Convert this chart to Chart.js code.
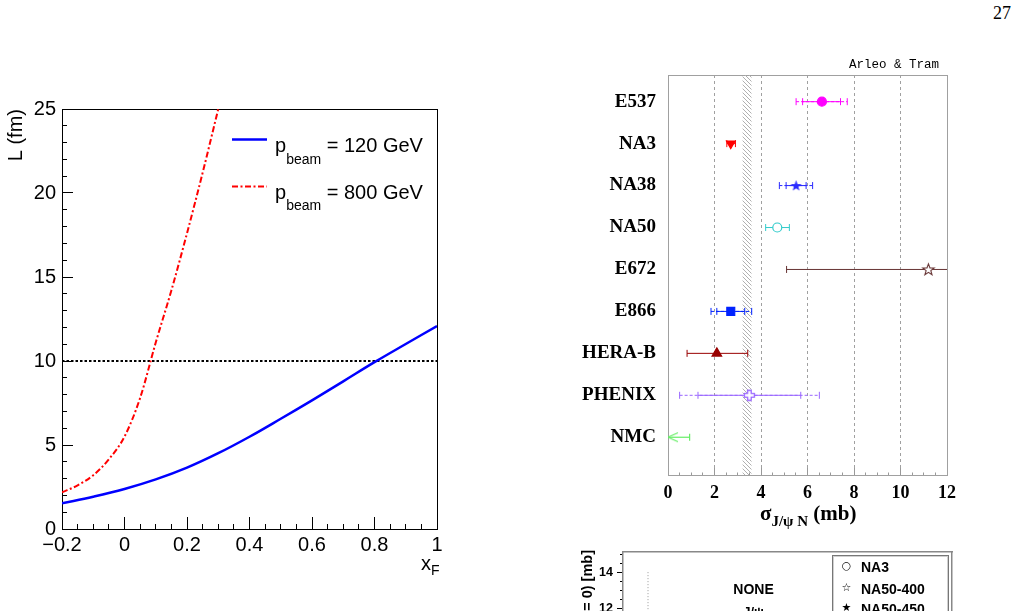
<!DOCTYPE html>
<html><head><meta charset="utf-8">
<script src="https://cdn.jsdelivr.net/npm/chart.js@4.4.0/dist/chart.umd.min.js"></script>
<style>
html,body{margin:0;padding:0;background:#fff;width:1019px;height:611px;overflow:hidden;position:relative;}
canvas{position:absolute;}
.t{position:absolute;white-space:nowrap;color:#000;}
.sans{font-family:'Liberation Sans',Arial,Helvetica,sans-serif;}
.serif{font-family:'Liberation Serif','Times New Roman',serif;}
</style></head><body>
<canvas id="c1" width="470" height="500" style="left:0;top:80px"></canvas>
<canvas id="c2" width="459" height="480" style="left:560px;top:50px"></canvas>
<canvas id="c3" width="459" height="130" style="left:560px;top:540px"></canvas>

<div class="t serif" style="left:993px;top:4px;font-size:18px;line-height:18px;">27</div>

<svg style="position:absolute;left:0;top:0;pointer-events:none" width="1019" height="611">
  <line x1="232" y1="139.5" x2="267" y2="139.5" stroke="#0000ff" stroke-width="2.5"/>
  <line x1="232" y1="186.5" x2="267" y2="186.5" stroke="#ff0000" stroke-width="2" stroke-dasharray="6 2.5 2 2.5"/>
</svg>
<div class="t sans" style="left:275px;top:135px;font-size:20px;line-height:20px;">p<span style="font-size:14px;position:relative;top:11.5px;">beam</span> = 120 GeV</div>
<div class="t sans" style="left:275px;top:181.5px;font-size:20px;line-height:20px;">p<span style="font-size:14px;position:relative;top:11.5px;">beam</span> = 800 GeV</div>
<div class="t sans" style="left:421px;top:553px;font-size:20px;line-height:20px;">x<span style="font-size:14px;position:relative;top:5px;">F</span></div>

<div class="t" style="left:849px;top:58.5px;font-family:'Liberation Mono','Courier New',monospace;font-size:12.5px;line-height:12.5px;">Arleo &amp; Tram</div>
<div class="t serif" style="left:760px;top:503px;font-size:21px;line-height:21px;font-weight:bold;">σ<span style="font-size:15px;position:relative;top:6px;">J/ψ N</span> (mb)</div>

<div class="t sans" style="left:588px;top:550px;font-size:14.5px;line-height:14.5px;font-weight:bold;transform-origin:0 0;transform:rotate(-90deg) translate(-100%,-50%);">σ(x<span style="font-size:10px;position:relative;top:3px;">F</span> = 0) [mb]</div>
<div class="t sans" style="left:703.5px;top:581.5px;width:100px;text-align:center;font-size:14px;line-height:14px;font-weight:bold;">NONE</div>
<div class="t sans" style="left:703.5px;top:605px;width:100px;text-align:center;font-size:13px;line-height:13px;font-weight:bold;">J/ψ</div>
<div style="position:absolute;left:832px;top:555px;width:115px;height:80px;border:1px solid #777;box-shadow:inset 0 0 0 1px #d0d0d0;"></div>
<div class="t" style="left:840px;top:560px;width:13px;text-align:center;font-family:'DejaVu Sans',sans-serif;font-size:11px;line-height:12px;">○</div>
<div class="t" style="left:840px;top:581.5px;width:13px;text-align:center;font-family:'DejaVu Sans',sans-serif;font-size:11px;line-height:12px;">☆</div>
<div class="t" style="left:840px;top:601.5px;width:13px;text-align:center;font-family:'DejaVu Sans',sans-serif;font-size:11px;line-height:12px;">★</div>
<div class="t sans" style="left:861px;top:560px;font-size:14px;line-height:14px;font-weight:bold;">NA3</div>
<div class="t sans" style="left:861px;top:581.5px;font-size:14px;line-height:14px;font-weight:bold;">NA50-400</div>
<div class="t sans" style="left:861px;top:601.7px;font-size:14px;line-height:14px;font-weight:bold;">NA50-450</div>

<script>
// ---------------- data: left chart (path length L vs x_F) ----------------
const xAxisRange = [-0.2, 1];
const xF120 = [-0.2, -0.1, 0, 0.1, 0.2, 0.3, 0.4, 0.5, 0.6, 0.7, 0.8, 0.9, 1.0];
const L120  = [1.53, 1.92, 2.38, 2.95, 3.65, 4.51, 5.49, 6.56, 7.66, 8.79, 9.93, 11.01, 12.08];
const xF800 = [-0.2, -0.15, -0.1, -0.05, 0, 0.05, 0.1, 0.15, 0.2, 0.25, 0.3];
const L800  = [2.18, 2.60, 3.20, 4.15, 5.50, 7.80, 11.1, 14.2, 17.6, 21.2, 25.0];
const Lreference = [10];
const xTickValues = [-0.2, 0, 0.2, 0.4, 0.6, 0.8, 1];
const xTickLabels = ['\u22120.2', '0', '0.2', '0.4', '0.6', '0.8', '1'];
const LTickValues = [0, 5, 10, 15, 20, 25];
const LTickLabels = ['0', '5', '10', '15', '20', '25'];

// ---------------- data: right chart (sigma J/psi N per experiment) ----------------
const experiments  = ['E537', 'NA3', 'NA38', 'NA50', 'E672', 'E866', 'HERA-B', 'PHENIX', 'NMC'];
const sigmaCentral = [6.62, 2.70, 5.51, 4.70, 11.20, 2.70, 2.10, 3.50, null];
const statLow      = [5.79, 2.53, 5.08, 4.20, 5.10, 2.10, 0.82, 1.29, null];
const statHigh     = [7.42, 2.90, 5.94, 5.22, 17.30, 3.30, 3.43, 5.71, null];
const sysLow       = [5.51, null, 4.79, null, null, 1.85, null, 0.50, null];
const sysHigh      = [7.71, null, 6.22, null, null, 3.60, null, 6.51, null];
const upperLimit   = [null, null, null, null, null, null, null, null, 0.93];
const bandSigma    = [3.2, 3.6];
const sigmaRange   = [0, 12];
const sigmaTickValues = [0, 2, 4, 6, 8, 10, 12];
const sigmaTickLabels = ['0', '2', '4', '6', '8', '10', '12'];

// ---------------- data: lower (partial) chart ----------------
const lowerTickValues = [10, 12, 14];
const lowerTickLabels = ['10', '12', '14'];
const lowerGuideX = [0.076, 0.076];
const lowerGuideY = [14, 9.2];

// ---------------- styles ----------------
const SANS = "'Liberation Sans', Arial, Helvetica, sans-serif";
const SERIF = "'Liberation Serif', 'Times New Roman', serif";
const expColor = ['#ff00ff', '#ff0000', '#2a2aff', '#33cccc', '#663333', '#0022ff', '#990000', '#9966ff', '#66ee66'];

Chart.defaults.animation = false;
Chart.defaults.color = '#000';
Chart.defaults.plugins.legend.display = false;
Chart.defaults.plugins.tooltip.enabled = false;

const isNear = (a, b) => Math.abs(a - b) < 1e-6;
const labelFor = (vals, labs) => v => { const k = vals.findIndex(t => isNear(t, v)); return k < 0 ? '' : labs[k]; };
const frameAxis = (pos, min, max, color, w) => ({
  type: 'linear', position: pos, min, max,
  ticks: { display: false },
  grid: { display: true, drawOnChartArea: false, drawTicks: false },
  border: { display: true, color, width: w || 1 },
  afterFit: s => { if (pos === 'top' || pos === 'bottom') s.height = 0; else s.width = 0; }
});

// ================= LEFT CHART =================
new Chart(document.getElementById('c1'), {
  type: 'line',
  data: { datasets: [
    { data: xF120.map((x, i) => ({ x, y: L120[i] })), borderColor: '#0000ff', borderWidth: 2.5,
      pointRadius: 0, tension: 0.4, fill: false, clip: 0 },
    { data: xF800.map((x, i) => ({ x, y: L800[i] })), borderColor: '#ff0000', borderWidth: 2,
      borderDash: [6, 2.5, 2, 2.5], pointRadius: 0, cubicInterpolationMode: 'monotone', fill: false, clip: 0 },
    { data: [{ x: xAxisRange[0], y: Lreference[0] }, { x: xAxisRange[1], y: Lreference[0] }],
      borderColor: '#000', borderWidth: 2, borderDash: [2.5, 2], pointRadius: 0, fill: false }
  ]},
  options: {
    responsive: false, animation: false,
    layout: { padding: { left: 0, top: 25, right: 33, bottom: 11 } },
    plugins: { legend: { display: false }, tooltip: { enabled: false } },
    scales: {
      x: {
        type: 'linear', position: 'bottom', min: xAxisRange[0], max: xAxisRange[1],
        afterBuildTicks: s => { s.ticks = Array.from({ length: 25 }, (_, k) => ({ value: (k - 4) / 20 })); },
        afterFit: s => { s.height = 40; },
        ticks: { autoSkip: false, maxRotation: 0, callback: labelFor(xTickValues, xTickLabels),
                 color: '#000', font: { family: SANS, size: 20 }, padding: 16 },
        grid: { drawOnChartArea: false, tickLength: -12, tickColor: '#000', tickWidth: 1,
                tickBorderDash: c => (c.index % 4 === 0 ? [] : [6, 100]) },
        border: { display: true, color: '#000', width: 1 }
      },
      y: {
        type: 'linear', position: 'left', min: 0, max: 25,
        afterBuildTicks: s => { s.ticks = Array.from({ length: 26 }, (_, k) => ({ value: k })); },
        afterFit: s => { s.width = 62; },
        ticks: { autoSkip: false, callback: labelFor(LTickValues, LTickLabels),
                 color: '#000', font: { family: SANS, size: 20 }, padding: 17 },
        grid: { drawOnChartArea: false, tickLength: -11, tickColor: '#000', tickWidth: 1,
                tickBorderDash: c => (c.index % 5 === 0 ? [] : [0, 6, 5, 100]) },
        border: { display: true, color: '#000', width: 1 },
        title: { display: true, text: 'L (fm)', align: 'end', color: '#000',
                 font: { family: SANS, size: 20 }, padding: { top: 4, bottom: 0 } }
      },
      x2: frameAxis('top', xAxisRange[0], xAxisRange[1], '#000'),
      y2: frameAxis('right', 0, 25, '#000')
    }
  }
});

// ================= RIGHT CHART =================
function makeImg(w, h, draw) { const c = document.createElement('canvas'); c.width = w; c.height = h; draw(c.getContext('2d')); return c; }
function starPath(g, cx, cy, ro, ri) {
  g.beginPath();
  for (let k = 0; k < 10; k++) {
    const r = k % 2 ? ri : ro, a = -Math.PI / 2 + k * Math.PI / 5;
    const px = cx + r * Math.cos(a), py = cy + r * Math.sin(a);
    if (k) g.lineTo(px, py); else g.moveTo(px, py);
  }
  g.closePath();
}
const starFilled = col => makeImg(13, 13, g => { starPath(g, 6.5, 6.9, 5.8, 2.4); g.fillStyle = col; g.fill(); });
const starOpen = col => makeImg(15, 15, g => { starPath(g, 7.5, 7.9, 6, 2.5); g.fillStyle = '#fff'; g.fill(); g.strokeStyle = col; g.lineWidth = 1.1; g.stroke(); });
const crossOpen = col => makeImg(13, 13, g => {
  const c = 6.5, a = 1.8, b = 5;
  const pts = [[c-a,c-b],[c+a,c-b],[c+a,c-a],[c+b,c-a],[c+b,c+a],[c+a,c+a],[c+a,c+b],[c-a,c+b],[c-a,c+a],[c-b,c+a],[c-b,c-a],[c-a,c-a]];
  g.beginPath(); pts.forEach((p, k) => k ? g.lineTo(p[0], p[1]) : g.moveTo(p[0], p[1])); g.closePath();
  g.fillStyle = '#fff'; g.fill(); g.strokeStyle = col; g.lineWidth = 1.3; g.stroke();
});
const arrowLeft = col => makeImg(24, 12, g => { g.strokeStyle = col; g.lineWidth = 1.2; g.beginPath(); g.moveTo(22, 1.5); g.lineTo(12, 6); g.lineTo(22, 10.5); g.stroke(); });

const markerStyle = ['circle', 'triangle', starFilled(expColor[2]), 'circle', starOpen(expColor[4]), 'rect', 'triangle', crossOpen(expColor[7]), null];
const markerRotation = [0, 180, 0, 0, 0, 0, 0, 0, 0];
const markerRadius = [4.5, 5, 5, 4.5, 5, 5.6, 5.5, 5, 0];
const markerFill = expColor.map((c, i) => (i === 3 ? '#ffffff' : c));

const c2 = document.getElementById('c2');
const hatchTile = makeImg(4, 4, g => { g.strokeStyle = '#b0b0b0'; g.lineWidth = 1; g.beginPath(); g.moveTo(-1, -1); g.lineTo(5, 5); g.moveTo(-1, 3); g.lineTo(1, 5); g.moveTo(3, -1); g.lineTo(5, 1); g.stroke(); });
const hatch = c2.getContext('2d').createPattern(hatchTile, 'repeat');

const Y_TOP = -0.636, Y_BOTTOM = 8.9;
const ds = [];
ds.push({ type: 'line', data: [{ x: bandSigma[0], y: Y_TOP }, { x: bandSigma[1], y: Y_TOP }],
          fill: { value: Y_BOTTOM }, backgroundColor: hatch, borderWidth: 0, pointRadius: 0, order: 10 });
experiments.forEach((name, i) => {
  const col = expColor[i];
  const caps = { pointStyle: 'line', pointRotation: 90, pointRadius: 3.5, pointBorderColor: col, pointBorderWidth: 1, pointBackgroundColor: col };
  if (sysLow[i] != null) ds.push({ data: [{ x: sysLow[i], y: i }, { x: sysHigh[i], y: i }], showLine: true,
      borderColor: col, borderWidth: 1, borderDash: [3, 2], ...caps, order: 4, clip: 0 });
  if (statLow[i] != null) ds.push({ data: [{ x: statLow[i], y: i }, { x: statHigh[i], y: i }], showLine: true,
      borderColor: col, borderWidth: 1, ...caps, order: 3, clip: 0 });
  if (upperLimit[i] != null) ds.push({ data: [{ x: sigmaRange[0], y: i }, { x: upperLimit[i], y: i }], showLine: true,
      borderColor: col, borderWidth: 1.2, pointStyle: [arrowLeft(col), 'line'], pointRotation: [0, 90], pointRadius: [5, 3.5],
      pointBorderColor: col, pointBorderWidth: 1.2, order: 2, clip: 0 });
  if (sigmaCentral[i] != null) ds.push({ data: [{ x: sigmaCentral[i], y: i }], showLine: false,
      pointStyle: markerStyle[i], pointRotation: markerRotation[i], pointRadius: markerRadius[i],
      pointBackgroundColor: markerFill[i], pointBorderColor: col, pointBorderWidth: 1.2, order: 1, clip: 0 });
});

new Chart(c2, {
  type: 'scatter',
  data: { datasets: ds },
  options: {
    responsive: false, animation: false,
    layout: { padding: { left: 0, top: 25, right: 72, bottom: 0 } },
    plugins: { legend: { display: false }, tooltip: { enabled: false } },
    scales: {
      x: {
        type: 'linear', position: 'bottom', min: sigmaRange[0], max: sigmaRange[1],
        afterBuildTicks: s => { s.ticks = Array.from({ length: 25 }, (_, k) => ({ value: k / 2 })); },
        afterFit: s => { s.height = 55; },
        ticks: { autoSkip: false, maxRotation: 0, callback: labelFor(sigmaTickValues, sigmaTickLabels),
                 color: '#000', font: { family: SERIF, size: 18, weight: 'bold' }, padding: 15 },
        grid: { drawOnChartArea: true,
                color: c => ((c.index % 4 === 0 && c.index > 0 && c.index < 24) ? '#a0a0a0' : 'rgba(0,0,0,0)'),
                borderDash: [3, 3], lineWidth: 1,
                tickLength: -7, tickColor: '#999', tickWidth: 1,
                tickBorderDash: c => (c.index % 4 === 0 ? [] : [3.5, 100]) },
        border: { display: true, color: '#a0a0a0', width: 1, dash: [3, 3] }
      },
      y: {
        type: 'linear', position: 'left', reverse: true, min: Y_TOP, max: Y_BOTTOM,
        afterBuildTicks: s => { s.ticks = experiments.map((_, k) => ({ value: k })); },
        afterFit: s => { s.width = 108; },
        ticks: { autoSkip: false, callback: v => experiments[Math.round(v)] || '',
                 color: '#000', font: { family: SERIF, size: 19, weight: 'bold' }, padding: 12 },
        grid: { drawOnChartArea: false, drawTicks: false },
        border: { display: true, color: '#a0a0a0', width: 1 }
      },
      x2: frameAxis('top', sigmaRange[0], sigmaRange[1], '#a0a0a0'),
      y2: frameAxis('right', Y_TOP, Y_BOTTOM, '#a0a0a0')
    }
  }
});

// ================= LOWER (PARTIAL) CHART =================
new Chart(document.getElementById('c3'), {
  type: 'scatter',
  data: { datasets: [
    { data: lowerGuideX.map((x, i) => ({ x, y: lowerGuideY[i] })), showLine: true,
      borderColor: '#9a9a9a', borderWidth: 1, borderDash: [1, 2], pointRadius: 0 }
  ]},
  options: {
    responsive: false, animation: false,
    layout: { padding: { left: 0, top: 12, right: 67, bottom: 5 } },
    plugins: { legend: { display: false }, tooltip: { enabled: false } },
    scales: {
      x: { type: 'linear', position: 'bottom', min: 0, max: 1,
           ticks: { display: false }, grid: { drawOnChartArea: false, drawTicks: false },
           border: { display: true, color: '#888', width: 1.5 }, afterFit: s => { s.height = 0; } },
      y: {
        type: 'linear', position: 'left', min: 9.2, max: 15.12,
        afterBuildTicks: s => { s.ticks = Array.from({ length: 12 }, (_, k) => ({ value: (19 + k) / 2 })); },
        afterFit: s => { s.width = 63; },
        ticks: { autoSkip: false, callback: labelFor(lowerTickValues, lowerTickLabels),
                 color: '#000', font: { family: SANS, size: 12.5, weight: 'bold' }, padding: 4 },
        grid: { drawOnChartArea: false, tickLength: 6, tickColor: '#000', tickWidth: 1,
                tickBorderDash: c => ((c.index + 19) % 4 === 0 ? [] : [0, 3, 3, 100]) },
        border: { display: true, color: '#888', width: 1.5 }
      },
      x2: frameAxis('top', 0, 1, '#888', 1.5),
      y2: frameAxis('right', 9.2, 15.12, '#888', 1.5)
    }
  }
});
</script>
</body></html>
